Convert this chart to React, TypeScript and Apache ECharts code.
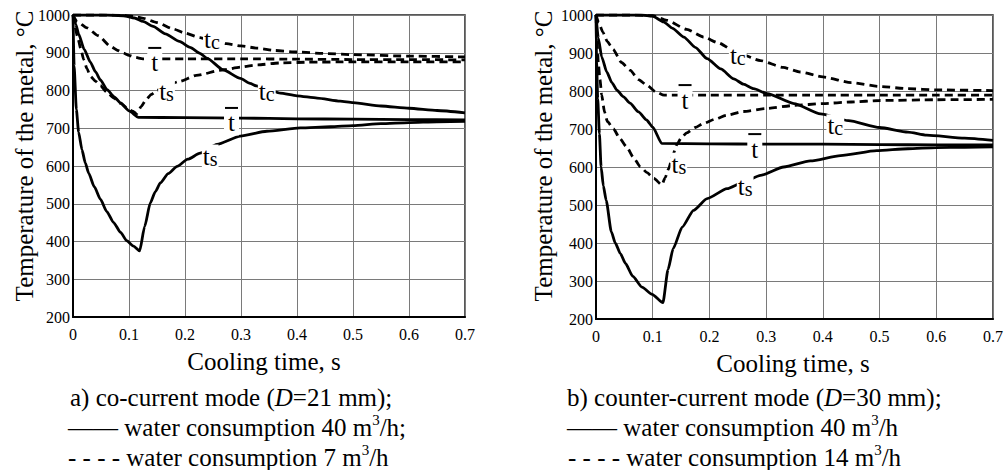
import React, { useEffect, useRef } from "react";
import * as echarts from "echarts";

const FONT = "Liberation Serif, Times New Roman, serif";

// Axis settings
const X_MIN = 0;
const X_MAX = 0.7;
const X_STEP = 0.1;
const Y_MIN = 200;
const Y_MAX = 1000;
const Y_STEP = 100;

// ---------- a) co-current mode (D = 21 mm) ----------
// water 40 m3/h (solid)
const L_TS_40 = [
  [0, 1000], [0.002, 865], [0.006, 750], [0.01, 690], [0.016, 643], [0.022, 608], [0.028, 581],
  [0.038, 545], [0.049, 512], [0.06, 480], [0.0726, 450], [0.085, 424], [0.096, 402], [0.108, 388],
  [0.119, 375], [0.128, 440], [0.138, 502], [0.147, 532], [0.156, 555], [0.17, 580], [0.186, 599],
  [0.205, 618], [0.227, 634], [0.257, 657], [0.299, 679], [0.346, 692], [0.406, 701], [0.46, 704],
  [0.5, 707], [0.55, 712], [0.6, 715], [0.65, 717], [0.7, 718],
];
const L_TM_40 = [
  [0, 1000], [0.005, 975], [0.01, 950], [0.02, 909], [0.031, 875], [0.04, 850], [0.049, 828],
  [0.061, 802], [0.073, 784], [0.085, 767], [0.1, 746], [0.117, 729], [0.2, 728], [0.3, 727],
  [0.4, 725], [0.5, 724], [0.6, 723], [0.7, 722],
];
const L_TC_40 = [
  [0, 1000], [0.06, 1000], [0.09, 998], [0.11, 992], [0.125, 983], [0.143, 970], [0.165, 950],
  [0.19, 930], [0.209, 914], [0.227, 898], [0.239, 886], [0.268, 855], [0.299, 832], [0.316, 819],
  [0.328, 812], [0.346, 803], [0.37, 793], [0.4, 786], [0.436, 780], [0.477, 772], [0.5, 768],
  [0.55, 759], [0.6, 753], [0.65, 747], [0.7, 741],
];
// water 7 m3/h (dashed)
const L_TS_7 = [
  [0, 1000], [0.004, 965], [0.008, 943], [0.014, 910], [0.019, 882], [0.025, 858], [0.031, 838],
  [0.04, 825], [0.049, 813], [0.06, 796], [0.073, 780], [0.085, 766], [0.096, 754], [0.106, 745],
  [0.114, 739], [0.122, 758], [0.13, 775], [0.14, 790], [0.15, 800], [0.165, 812], [0.19, 824],
  [0.22, 840], [0.266, 854], [0.3, 862], [0.33, 868], [0.37, 873], [0.42, 875], [0.5, 876],
  [0.6, 876], [0.7, 876],
];
const L_TM_7 = [
  [0, 1000], [0.007, 983], [0.025, 966], [0.045, 945], [0.067, 917], [0.08, 906], [0.09, 899],
  [0.1, 893], [0.11, 888], [0.125, 884], [0.2, 884], [0.3, 884], [0.4, 883], [0.5, 882],
  [0.6, 882], [0.7, 881],
];
const L_TC_7 = [
  [0, 1000], [0.05, 1000], [0.09, 999], [0.11, 996], [0.126, 991], [0.15, 980], [0.179, 963],
  [0.2, 952], [0.227, 940], [0.248, 931], [0.274, 924], [0.3, 918], [0.33, 912], [0.36, 906],
  [0.4, 902], [0.45, 898], [0.5, 895], [0.6, 891], [0.7, 889],
];

// ---------- b) counter-current mode (D = 30 mm) ----------
// water 40 m3/h (solid)
const R_TS_40 = [
  [0, 1000], [0.001, 880], [0.003, 780], [0.006, 688], [0.009, 600], [0.013, 550], [0.018, 512],
  [0.027, 430], [0.034, 400], [0.043, 372], [0.052, 346], [0.065, 312], [0.081, 284], [0.099, 265],
  [0.118, 243], [0.127, 330], [0.136, 385], [0.152, 442], [0.172, 486], [0.196, 517], [0.231, 543],
  [0.26, 560], [0.29, 578], [0.331, 600], [0.378, 616], [0.431, 630], [0.495, 643], [0.55, 648],
  [0.6, 651], [0.65, 652], [0.7, 653],
];
const R_TM_40 = [
  [0, 1000], [0.004, 940], [0.01, 890], [0.019, 850], [0.028, 822], [0.037, 802], [0.048, 785],
  [0.06, 768], [0.075, 745], [0.089, 724], [0.1, 705], [0.116, 662], [0.2, 661], [0.3, 660],
  [0.4, 660], [0.5, 659], [0.6, 658], [0.7, 658],
];
const R_TC_40 = [
  [0, 1000], [0.08, 1000], [0.1, 997], [0.119, 982], [0.135, 965], [0.155, 942], [0.175, 915],
  [0.196, 885], [0.22, 858], [0.243, 832], [0.26, 818], [0.278, 806], [0.302, 793], [0.349, 767],
  [0.396, 740], [0.445, 722], [0.5, 704], [0.55, 692], [0.583, 684], [0.65, 676], [0.7, 670],
];
// water 14 m3/h (dashed)
const R_TS_14 = [
  [0, 1000], [0.002, 930], [0.004, 875], [0.007, 830], [0.01, 790], [0.015, 745], [0.02, 720],
  [0.031, 700], [0.042, 675], [0.054, 653], [0.066, 625], [0.078, 601], [0.09, 585], [0.102, 570],
  [0.116, 553], [0.122, 572], [0.128, 595], [0.135, 628], [0.142, 658], [0.15, 676], [0.16, 690],
  [0.175, 704], [0.19, 715], [0.21, 726], [0.23, 736], [0.26, 746], [0.3, 754], [0.35, 762],
  [0.4, 767], [0.45, 771], [0.5, 775], [0.6, 777], [0.7, 778],
];
const R_TM_14 = [
  [0, 1000], [0.005, 980], [0.012, 955], [0.02, 930], [0.03, 910], [0.045, 875], [0.06, 855],
  [0.075, 830], [0.09, 815], [0.105, 798], [0.12, 789], [0.2, 789], [0.3, 789], [0.4, 789],
  [0.5, 789], [0.6, 789], [0.7, 789],
];
const R_TC_14 = [
  [0, 1000], [0.06, 1000], [0.1, 998], [0.125, 986], [0.16, 962], [0.19, 942], [0.215, 927],
  [0.25, 900], [0.29, 880], [0.33, 862], [0.36, 850], [0.4, 837], [0.45, 822], [0.5, 812],
  [0.55, 806], [0.6, 803], [0.7, 801],
];

// Curve label anchor points [t, T]
const L_LBL_TS_40 = [0.245, 625];
const L_LBL_TM_40 = [0.283, 722];
const L_LBL_TC_40 = [0.346, 795];
const L_LBL_TS_7 = [0.167, 797];
const L_LBL_TM_7 = [0.146, 881];
const L_LBL_TC_7 = [0.248, 933];
const R_LBL_TS_40 = [0.263, 548];
const R_LBL_TM_40 = [0.28, 655];
const R_LBL_TC_40 = [0.422, 707];
const R_LBL_TS_14 = [0.146, 606];
const R_LBL_TM_14 = [0.157, 784];
const R_LBL_TC_14 = [0.25, 893];

const Y_NAME = "Temperature of the metal, \u00B0C";
const X_NAME = "Cooling time, s";

const CAPTION_A = [
  "a) co-current mode ({i|D}=21 mm);",
  "\u2014\u2014 water consumption 40 m{sup|3}/h;",
  "- - - - water consumption 7 m{sup|3}/h",
];
const CAPTION_B = [
  "b) counter-current mode ({i|D}=30 mm);",
  "\u2014\u2014 water consumption 40 m{sup|3}/h",
  "- - - - water consumption 14 m{sup|3}/h",
];

const LABEL_FMT: Record<string, string> = {
  tc: "{t|t}{s|c}",
  ts: "{t|t}{s|s}",
  tm: "{bar| }\n{t|t}",
};

const LABEL_RICH = {
  t: { fontSize: 25, lineHeight: 24, verticalAlign: "bottom", fontFamily: FONT, color: "#000" },
  s: { fontSize: 20, lineHeight: 20, verticalAlign: "bottom", fontFamily: FONT, color: "#000" },
  bar: { width: 13, height: 2, lineHeight: 7, backgroundColor: "#000" },
};

const CAPTION_RICH = {
  n: { fontSize: 25, fontFamily: FONT, fill: "#000", lineHeight: 30 },
  i: { fontSize: 25, fontStyle: "italic", fontFamily: FONT, fill: "#000", lineHeight: 30 },
  sup: { fontSize: 15, fontFamily: FONT, fill: "#000", lineHeight: 14, verticalAlign: "top" },
};

function mkSeries(data: number[][], dashed: boolean, idx: number, kind: string, lbl: number[]) {
  return {
    type: "line",
    xAxisIndex: idx,
    yAxisIndex: idx,
    data,
    symbol: "none",
    showSymbol: false,
    smooth: 0.2,
    smoothMonotone: "x",
    silent: true,
    z: 3,
    lineStyle: { color: "#000", width: 2.8, type: dashed ? [8, 5] : "solid" },
    markPoint: {
      z: 10,
      symbol: "circle",
      symbolSize: 1,
      silent: true,
      itemStyle: { color: "rgba(0,0,0,0)" },
      label: {
        show: true,
        position: "inside",
        color: "#000",
        backgroundColor: "#fff",
        padding: [0, 1, 0, 1],
        rich: LABEL_RICH,
        formatter: LABEL_FMT[kind],
      },
      data: [{ coord: lbl }],
    },
  };
}

function mkAxes(n: number) {
  const xs: any[] = [];
  const ys: any[] = [];
  for (let i = 0; i < n; i++) {
    xs.push({
      type: "value",
      gridIndex: i,
      min: X_MIN,
      max: X_MAX,
      interval: X_STEP,
      axisLine: { show: true, onZero: false, lineStyle: { color: "#000", width: 2 } },
      axisTick: { show: false },
      splitLine: { show: true, lineStyle: { color: "#7a7a7a", width: 1 } },
      axisLabel: {
        color: "#000",
        fontSize: 16,
        fontFamily: FONT,
        margin: 9,
        formatter: (v: number) => String(Math.round(v * 10) / 10),
      },
    });
    ys.push({
      type: "value",
      gridIndex: i,
      min: Y_MIN,
      max: Y_MAX,
      interval: Y_STEP,
      axisLine: { show: true, lineStyle: { color: "#000", width: 2 } },
      axisTick: { show: false },
      splitLine: { show: true, lineStyle: { color: "#7a7a7a", width: 1 } },
      axisLabel: {
        color: "#000",
        fontSize: 16,
        fontFamily: FONT,
        margin: 3,
        padding: [7, 0, 0, 0],
        formatter: (v: number) => String(Math.round(v)),
      },
    });
  }
  return { xs, ys };
}

function textEl(text: string, x: number, y: number, extra: any = {}) {
  const { align, ...rest } = extra;
  return {
    type: "text",
    x,
    y,
    silent: true,
    ...rest,
    style: {
      text,
      font: "25px " + FONT,
      fontSize: 25,
      fontFamily: FONT,
      fill: "#000",
      lineHeight: 30,
      rich: CAPTION_RICH,
      textAlign: align || "left",
      align: align || "left",
      textVerticalAlign: "middle",
      verticalAlign: "middle",
    },
  };
}

export default function App() {
  const ref = useRef<HTMLDivElement>(null);
  useEffect(() => {
    if (!ref.current) return;
    const chart = echarts.init(ref.current, undefined, { renderer: "svg" });
    const { xs, ys } = mkAxes(2);
    const graphic: any[] = [
      textEl(Y_NAME, 24, 156, { rotation: Math.PI / 2, align: "center" }),
      textEl(Y_NAME, 543, 156, { rotation: Math.PI / 2, align: "center" }),
      textEl(X_NAME, 264, 361, { align: "center" }),
      textEl(X_NAME, 793, 363, { align: "center" }),
      textEl(CAPTION_A[0], 70, 397),
      textEl(CAPTION_A[1], 68, 427),
      textEl(CAPTION_A[2], 68, 457),
      textEl(CAPTION_B[0], 567, 397),
      textEl(CAPTION_B[1], 567, 427),
      textEl(CAPTION_B[2], 568, 457),
    ];
    chart.setOption({
      animation: false,
      textStyle: { fontFamily: FONT },
      grid: [
        { left: 73, top: 15, width: 392, height: 302, show: true, borderColor: "#222", borderWidth: 1.5, backgroundColor: "transparent" },
        { left: 596, top: 15, width: 397, height: 304, show: true, borderColor: "#222", borderWidth: 1.5, backgroundColor: "transparent" },
      ],
      xAxis: xs,
      yAxis: ys,
      series: [
        mkSeries(L_TS_40, false, 0, "ts", L_LBL_TS_40),
        mkSeries(L_TM_40, false, 0, "tm", L_LBL_TM_40),
        mkSeries(L_TC_40, false, 0, "tc", L_LBL_TC_40),
        mkSeries(L_TS_7, true, 0, "ts", L_LBL_TS_7),
        mkSeries(L_TM_7, true, 0, "tm", L_LBL_TM_7),
        mkSeries(L_TC_7, true, 0, "tc", L_LBL_TC_7),
        mkSeries(R_TS_40, false, 1, "ts", R_LBL_TS_40),
        mkSeries(R_TM_40, false, 1, "tm", R_LBL_TM_40),
        mkSeries(R_TC_40, false, 1, "tc", R_LBL_TC_40),
        mkSeries(R_TS_14, true, 1, "ts", R_LBL_TS_14),
        mkSeries(R_TM_14, true, 1, "tm", R_LBL_TM_14),
        mkSeries(R_TC_14, true, 1, "tc", R_LBL_TC_14),
      ],
      graphic,
    });
    return () => chart.dispose();
  }, []);
  return (
    <div
      ref={ref}
      style={{ position: "fixed", left: 0, top: 0, width: 1008, height: 470, background: "#fff" }}
    />
  );
}
